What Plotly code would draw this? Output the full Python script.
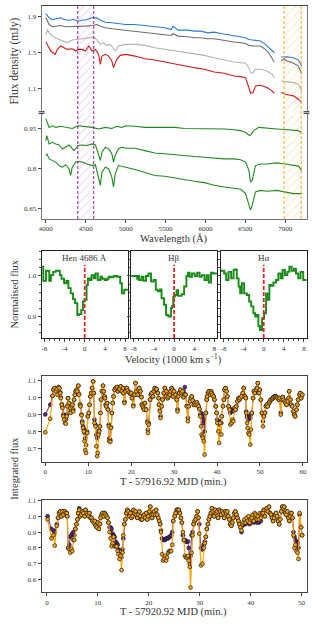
import plotly.graph_objects as go

# ---------------- DATA ----------------
# Top panel spectra (mJy)
wl_blue = [4000, 4021, 4041, 4083, 4124, 4186, 4228, 4290, 4352, 4405, 4455, 4517, 4579, 4641, 4683, 4745, 4827, 4910,
           5001, 5117, 5241, 5365, 5489, 5572, 5593, 5655, 5779, 5862, 5944, 6027, 6110, 6193, 6275, 6358, 6441, 6503,
           6544, 6606, 6689, 6751, 6792, 6834, 6863, 6900, 6950, 7020, 7103, 7165, 7206]
fx_blue = [1.929, 1.907, 1.882, 1.863, 1.870, 1.882, 1.863, 1.856, 1.863, 1.845, 1.856, 1.863, 1.882, 1.882, 1.856,
           1.834, 1.827, 1.819, 1.808, 1.808, 1.797, 1.783, 1.772, 1.753, 1.790, 1.746, 1.746, 1.735, 1.735, 1.716,
           1.724, 1.709, 1.698, 1.680, 1.672, 1.661, 1.643, 1.636, 1.625, 1.588, 1.551, 1.515, 1.496, None, 1.448,
           1.452, 1.441, 1.415, 1.349]
wl_dgray = [4000, 4021, 4041, 4083, 4124, 4186, 4248, 4331, 4405, 4496, 4579, 4641, 4683, 4745, 4827, 4910, 5001, 5117,
            5241, 5365, 5489, 5572, 5593, 5655, 5779, 5862, 5944, 6027, 6110, 6193, 6275, 6358, 6441, 6503, 6544, 6606,
            6689, 6751, 6792, 6834, 6863, 6900, 6950, 6979, 7020, 7103, 7165, 7206]
fx_dgray = [1.882, 1.845, 1.808, 1.783, 1.790, 1.797, 1.783, 1.783, 1.783, 1.790, 1.797, 1.808, 1.790, 1.772, 1.761,
            1.753, 1.746, 1.735, 1.724, 1.709, 1.698, 1.687, 1.709, 1.680, 1.672, 1.661, 1.661, 1.650, 1.650, 1.636,
            1.625, 1.614, 1.606, 1.599, 1.577, 1.570, 1.570, 1.533, 1.496, 1.441, 1.393, None, 1.404, 1.430, 1.404,
            1.379, 1.349, 1.258]
wl_lgray = [4000, 4021, 4041, 4083, 4145, 4207, 4269, 4331, 4405, 4476, 4538, 4600, 4641, 4683, 4724, 4753, 4807, 4848,
            4869, 4910, 4993, 5117, 5241, 5365, 5489, 5613, 5738, 5862, 5986, 6110, 6234, 6358, 6441, 6503, 6544, 6565,
            6586, 6627, 6689, 6772, 6834, 6863, 6900, 6950, 7020, 7103, 7165, 7206]
fx_lgray = [1.698, 1.753, 1.716, 1.680, 1.650, 1.625, 1.606, 1.636, 1.643, 1.650, 1.661, 1.669, 1.636, 1.588, 1.606,
            1.577, 1.588, 1.533, 1.515, 1.570, 1.588, 1.588, 1.577, 1.551, 1.533, 1.515, 1.504, 1.478, 1.467, 1.441,
            1.415, 1.393, 1.386, 1.379, 1.331, 1.276, 1.269, 1.313, 1.313, 1.294, 1.258, 1.221, None, 1.184, 1.173,
            1.166, 1.147, 1.074]
wl_red = [4000, 4021, 4041, 4062, 4083, 4116, 4145, 4186, 4228, 4269, 4331, 4372, 4405, 4455, 4496, 4538, 4579, 4621,
          4662, 4683, 4703, 4745, 4786, 4827, 4848, 4889, 4931, 5001, 5117, 5241, 5365, 5489, 5613, 5738, 5862, 5986,
          6110, 6234, 6358, 6441, 6503, 6544, 6565, 6598, 6627, 6689, 6772, 6834, 6863, 6900, 6950, 7000, 7061, 7103,
          7165, 7206]
fx_red = [1.614, 1.588, 1.551, 1.515, 1.496, 1.478, 1.533, 1.570, 1.551, 1.533, 1.540, 1.515, 1.533, 1.533, 1.515,
          1.570, 1.515, 1.533, 1.478, 1.368, 1.459, 1.478, 1.459, 1.404, 1.331, 1.423, 1.467, 1.478, 1.459, 1.430,
          1.415, 1.393, 1.368, 1.349, 1.331, 1.313, 1.283, 1.269, 1.239, 1.232, 1.221, 1.111, 1.048, 1.056, 1.129,
          1.136, 1.111, 1.074, 1.048, None, 1.056, 1.037, 1.026, 1.019, 0.982, 0.945]

# Lower spectra panel (green)
wl_g1 = [4000, 4021, 4041, 4083, 4124, 4186, 4248, 4331, 4405, 4496, 4579, 4662, 4745, 4827, 4889, 4952, 5001, 5117,
         5241, 5365, 5489, 5613, 5738, 5862, 5986, 6110, 6234, 6358, 6441, 6503, 6544, 6565, 6606, 6668, 6772, 6896,
         7020, 7103, 7165, 7206]
fx_g1 = [0.988, 0.974, 0.955, 0.961, 0.955, 0.959, 0.955, 0.951, 0.961, 0.959, 0.955, 0.949, 0.955, 0.951, 0.959,
         0.955, 0.961, 0.959, 0.955, 0.955, 0.955, 0.955, 0.951, 0.951, 0.951, 0.949, 0.949, 0.946, 0.943, 0.936,
         0.926, 0.926, 0.943, 0.955, 0.951, 0.949, 0.946, 0.943, 0.943, 0.934]
wl_g23 = [4000, 4012, 4041, 4083, 4124, 4165, 4207, 4248, 4290, 4310, 4331, 4352, 4372, 4405, 4455, 4517, 4579, 4621,
          4662, 4683, 4703, 4745, 4786, 4827, 4848, 4869, 4910, 4952, 5001, 5117, 5241, 5365, 5489, 5613, 5738, 5862,
          5986, 6110, 6234, 6358, 6441, 6503, 6544, 6565, 6586, 6627, 6689, 6772, 6896, 7000, 7103, 7165, 7206]
fx_g2 = [0.905, 0.924, 0.893, 0.899, 0.893, 0.889, 0.874, 0.881, 0.889, 0.883, 0.877, 0.868, 0.874, 0.887, 0.889,
         0.887, 0.893, 0.889, 0.852, 0.831, 0.862, 0.881, 0.874, 0.856, 0.825, 0.850, 0.874, 0.881, 0.877, 0.877,
         0.868, 0.859, 0.856, 0.852, 0.850, 0.846, 0.843, 0.839, 0.837, 0.837, 0.834, 0.825, 0.794, 0.750, 0.756,
         0.812, 0.818, 0.818, 0.822, 0.818, 0.812, 0.810, 0.794]
fx_g3 = [0.850, 0.856, 0.837, 0.831, 0.825, 0.812, 0.806, 0.815, 0.800, 0.775, 0.806, 0.815, 0.825, 0.827, 0.825,
         0.818, 0.812, 0.815, 0.763, 0.738, 0.787, 0.806, 0.800, 0.769, 0.732, 0.781, 0.812, 0.810, 0.806, 0.797,
         0.787, 0.775, 0.772, 0.765, 0.760, 0.753, 0.748, 0.738, 0.732, 0.728, 0.723, 0.707, 0.670, 0.645, 0.663,
         0.713, 0.719, 0.716, 0.719, 0.713, 0.707, 0.707, 0.707]

band_purple = [4400, 4600]
band_orange = [6985, 7200]

wl_ticks = [4000, 4500, 5000, 5500, 6000, 6500, 7000]
top_ticks = [1.1, 1.5, 1.9]
top_ticktext = ["1.1", "1.5", "1.9"]
bot_ticks = [0.65, 0.8, 0.95]
bot_ticktext = ["0.65", "0.8", "0.95"]

# Line profiles (velocity in 1000 km/s, normalised flux)
vel_heii = [-8.65, -8.2, -7.67, -7.02, -6.69, -6.24, -5.71, -4.93, -4.6, -4.08, -3.62, -3.23, -2.77, -2.31, -1.92,
            -1.46, -1.14, -0.68, -0.35, -0.03, 0.37, 0.63, 1.02, 1.35, 1.8, 2.13, 2.59, 3.11, 3.44, 3.96, 4.42, 4.75,
            5.2, 5.73, 6.38, 7.03, 7.36, 7.82, 8.6]
nf_heii = [1.023, 0.988, 1.013, 0.988, 1.002, 1.010, 1.013, 1.002, 0.993, 0.982, 0.988, 0.970, 0.957, 0.943, 0.933,
           0.904, 0.906, 0.916, 0.937, 0.941, 0.978, 0.994, 0.990, 1.002, 0.994, 1.006, 0.990, 0.998, 0.993, 0.990,
           0.993, 0.998, 0.997, 1.000, 0.998, 0.982, 0.957, 0.966, 0.966]
vel_hb = [-8.6, -7.35, -7.15, -7.0, -6.5, -6.1, -5.6, -5.1, -4.6, -4.1, -3.65, -3.25, -2.8, -2.5, -2.0, -1.6, -1.15,
          -0.6, -0.4, -0.16, 0.16, 0.49, 0.8, 1.47, 1.99, 2.45, 2.78, 3.1, 3.56, 4.1, 4.6, 5.06, 5.5, 6.05, 6.5, 6.9,
          7.35, 7.8, 8.6]
nf_hb = [1.0, 0.993, 1.0, 0.990, 0.998, 0.988, 1.0, 1.006, 0.986, 0.990, 0.966, 0.962, 0.967, 0.945, 0.929, 0.904,
         0.900, 0.921, 0.926, 0.949, 0.953, 0.965, 0.951, 0.955, 0.974, 1.0, 1.008, 0.998, 1.006, 1.0, 1.008, 0.998,
         1.002, 0.990, 1.002, 0.984, 1.008, 1.006, 1.006]
vel_ha = [-8.6, -7.87, -7.47, -7.0, -6.48, -6.0, -5.7, -5.36, -5.0, -4.7, -4.36, -3.9, -3.37, -2.9, -2.5, -2.05, -1.7,
          -1.39, -1.06, -0.73, -0.33, 0.07, 0.47, 0.73, 1.13, 1.46, 1.92, 2.45, 2.91, 3.38, 3.77, 4.23, 4.7, 5.1, 5.56,
          6.02, 6.42, 6.88, 7.34, 7.87, 8.6]
nf_ha = [1.013, 1.006, 0.990, 1.010, 0.994, 1.015, 1.016, 0.994, 0.974, 0.957, 0.982, 0.957, 0.953, 0.937, 0.925,
         0.908, 0.900, 0.904, 0.876, 0.867, 0.896, 0.908, 0.957, 0.941, 0.978, 0.976, 0.984, 0.990, 1.006, 0.994,
         1.015, 1.002, 1.010, 1.023, 1.013, 1.018, 1.006, 0.994, 1.010, 0.990, 0.990]
line_labels = ["He<span style='font-size:7px'>II</span> 4686 Å", "Hβ", "Hα"]
vel_ticks = [-8, -4, 0, 4, 8]
vel_ticktext = ["-8", "-4", "0", "4", "8"]
nf_ticks = [0.9, 1.0]
nf_ticktext = ["0.9", "1.0"]

# Light curve 1 (T - 57916.92 MJD, min)
t1 = [0, 1.15, 1.7, 1.9, 2.2, 2.5, 2.7, 2.85, 3.1, 3.3, 3.5, 3.6, 3.85, 4.0, 4.2, 4.4, 4.6, 4.8, 5.0, 5.15, 5.3, 5.5,
      5.8, 5.9, 6.15, 6.3, 6.5, 6.7, 6.9, 7.1, 7.3, 7.45, 7.7, 7.85, 8.1, 8.2, 8.45, 8.6, 8.8, 9.0, 9.15, 9.3, 9.5,
      9.75, 9.9, 10.15, 10.3, 10.5, 10.7, 10.9, 11.15, 11.3, 11.45, 11.7, 11.9, 12.1, 12.2, 12.4, 12.55, 12.7, 12.85,
      13.0, 13.2, 13.45, 13.6, 13.8, 13.9, 14.1, 14.2, 14.4, 14.6, 14.8, 14.9, 15.15, 15.3, 15.5, 15.7, 15.9, 16.15,
      16.4, 16.7, 16.9, 17.1, 17.3, 17.6, 17.85, 18.1, 18.2, 18.45, 18.7, 19.0, 19.2, 19.5, 19.8, 20.0, 20.2, 20.5,
      20.8, 21.0, 21.2, 21.5, 21.7, 21.9, 22.15, 22.4, 22.5, 22.7, 22.85, 23.0, 23.2, 23.5, 23.8, 23.9, 24.1, 24.4,
      24.6, 24.8, 25.1, 25.3, 25.5, 25.8, 25.9, 26.2, 26.4, 26.5, 26.7, 26.85, 27.1, 27.3, 27.6, 27.85, 28.1, 28.2,
      28.5, 28.7, 29.0, 29.2, 29.4, 29.65, 29.8, 30.0, 30.35, 30.6, 30.8, 30.96, 31.2, 31.5, 31.7, 31.95, 32.2, 32.5,
      32.7, 32.95, 33.2, 33.4, 33.7, 33.9, 34.1, 34.3, 34.6, 34.8, 35.0, 35.3, 35.5, 35.7, 35.9, 36.1, 36.3, 36.4,
      36.6, 36.7, 36.9, 37.1, 37.4, 37.6, 37.7, 37.9, 38.1, 38.4, 38.6, 38.7, 38.95, 39.2, 39.4, 39.7, 39.9, 40.05,
      40.3, 40.5, 40.7, 41.0, 41.1, 41.4, 41.6, 41.75, 42.0, 42.2, 42.4, 42.7, 42.9, 43.1, 43.4, 43.6, 43.8, 44.1,
      44.3, 44.5, 44.75, 45.0, 45.2, 45.4, 45.7, 46.0, 46.2, 46.5, 46.7, 46.8, 47.0, 47.1, 47.3, 47.5, 47.75, 47.9,
      48.1, 48.4, 48.6, 48.8, 49.1, 49.3, 49.5, 49.75, 49.95, 50.2, 50.45, 50.7, 50.9, 51.15, 51.4, 51.6, 51.8, 52.1,
      52.3, 52.5, 52.8, 53.0, 53.2, 53.5, 53.7, 53.9, 54.1, 54.4, 54.6, 54.85, 55.1, 55.3, 55.5, 55.8, 56.0, 56.2,
      56.5, 56.7, 56.8, 57.1, 57.3, 57.5, 57.8, 58.0, 58.2, 58.5, 58.7, 58.9, 59.2, 59.4, 59.6, 59.85]
orange1 = [0.795, 0.875, 1.010, 1.045, 1.055, 1.036, 1.049, 1.016, 1.061, 1.055, 1.026, 0.996, 0.957, 0.938, 0.889,
           0.870, 0.850, 0.846, 0.889, 0.948, 0.996, 0.967, 0.938, 0.909, 0.948, 0.957, 0.918, 0.987, 1.016, 1.036,
           1.045, 1.036, 1.069, 1.016, 0.957, 0.948, 0.895, 0.850, 0.821, 0.801, 0.743, 0.690, 0.674, 0.791, 0.889,
           0.909, 0.957, 1.006, 1.026, 1.055, 1.094, 1.026, 0.850, 0.830, 0.713, 0.655, 0.674, 0.782, 0.801, 0.830,
           0.909, 0.987, 1.036, 1.069, 1.036, 1.006, 0.996, 0.957, 0.948, 0.967, 0.928, 0.830, 0.743, 0.739, 0.821,
           0.909, 0.967, 1.006, 1.045, 1.055, 1.061, 1.036, 1.049, 1.049, 1.065, 1.036, 1.055, 1.026, 0.967, 1.036,
           1.055, 1.041, 1.030, 1.022, 1.026, 0.996, 0.948, 1.016, 1.084, 1.036, 1.016, 1.045, 1.055, 1.036, 1.002,
           0.957, 0.948, 0.938, 0.928, 0.967, 0.928, 0.850, 0.791, 0.840, 0.987, 1.016, 1.026, 1.006, 1.036, 1.055,
           1.045, 1.049, 1.026, 0.996, 0.957, 0.918, 0.879, 0.948, 0.987, 1.026, 1.055, 1.006, 1.036, 0.996, 1.006,
           1.016, 1.036, 1.055, 1.045, 1.006, 1.036, 1.016, 0.987, 0.918, 1.006, 1.026, 1.045, 1.026, 1.036, 1.002,
           1.016, 1.016, 0.948, 0.860, 0.948, 0.977, 0.996, 1.006, 0.983, 0.957, 0.967, 0.957, 0.971, 0.957, 0.948,
           0.932, 0.889, 0.830, 0.782, 0.772, 0.762, 0.743, 0.664, 0.909, 0.987, 1.006, 1.026, 1.036, 1.016, 1.036,
           1.026, 1.016, 1.006, 0.987, 0.948, 0.909, 0.850, 0.801, 0.733, 0.850, 0.782, 0.889, 0.948, 0.987, 1.045,
           1.055, 1.036, 1.006, 0.948, 0.928, 0.840, 0.850, 0.870, 0.860, 0.938, 0.928, 0.948, 0.977, 0.996, 0.987,
           0.996, 1.006, 1.026, 1.055, 1.006, 0.996, 0.909, 0.850, 0.821, 0.791, 0.782, 0.723, 0.811, 0.909, 0.996,
           1.036, 1.026, 1.045, 1.055, 1.084, 1.026, 1.045, 0.987, 0.909, 0.830, 0.889, 0.909, 0.948, 0.957, 0.948,
           0.967, 0.977, 0.987, 0.991, 0.996, 1.002, 1.006, 1.006, 1.002, 0.996, 0.987, 0.996, 0.899, 0.987, 1.002,
           0.987, 0.977, 0.967, 0.957, 0.977, 0.996, 1.036, 0.987, 0.957, 0.948, 0.918, 0.899, 0.889, 0.928, 0.957,
           0.987, 1.016, 1.026, 0.996, 1.016]
purple1 = [0.900, 0.957, 1.010, 1.045, 1.055, 1.040, 1.049, 1.030, 1.061, 1.055, 1.030, 1.000, 0.960, 0.945, 0.900,
           0.890, 0.880, 0.870, 0.900, 0.950, 0.996, 0.967, 0.945, 0.920, 0.950, 0.957, 0.930, 0.987, 1.016, 1.036,
           1.045, 1.040, 1.069, 1.020, 0.960, 0.950, 0.900, 0.860, 0.830, 0.815, 0.790, 0.760, 0.720, 0.800, 0.889,
           0.909, 0.957, 1.006, 1.026, 1.055, 1.094, 1.026, 0.870, 0.840, 0.780, 0.760, 0.770, 0.790, 0.805, 0.830,
           0.909, 0.987, 1.036, 1.069, 1.036, 1.006, 0.996, 0.957, 0.948, 0.967, 0.930, 0.840, 0.760, 0.750, 0.825,
           0.909, 0.967, 1.006, 1.045, 1.055, 1.061, 1.036, 1.049, 1.049, 1.065, 1.036, 1.055, 1.026, 0.975, 1.036,
           1.055, 1.041, 1.030, 1.022, 1.026, 0.996, 0.955, 1.016, 1.084, 1.036, 1.016, 1.045, 1.055, 1.036, 1.002,
           0.960, 0.950, 0.940, 0.930, 0.967, 0.930, 0.860, 0.810, 0.850, 0.987, 1.016, 1.026, 1.006, 1.036, 1.055,
           1.045, 1.049, 1.026, 0.996, 0.957, 0.925, 0.890, 0.948, 0.987, 1.026, 1.055, 1.006, 1.036, 0.996, 1.006,
           1.016, 1.036, 1.055, 1.045, 1.006, 1.036, 1.016, 0.987, 0.930, 1.006, 1.026, 1.045, 1.026, 1.036, 1.002,
           1.061, 1.016, 0.950, 0.880, 0.948, 0.977, 0.996, 1.006, 0.983, 0.957, 0.967, 0.957, 0.971, 0.957, 0.948,
           0.932, 0.900, 0.909, 0.899, 0.889, 0.850, 0.870, 0.800, 0.909, 0.987, 1.006, 1.026, 1.036, 1.016, 1.036,
           1.026, 1.016, 1.006, 0.987, 0.948, 0.909, 0.870, 0.850, 0.840, 0.860, 0.850, 0.889, 0.948, 0.987, 1.045,
           1.055, 1.036, 1.006, 0.948, 0.938, 0.909, 0.920, 0.928, 0.918, 0.938, 0.928, 0.948, 0.977, 0.996, 0.987,
           0.996, 1.006, 1.026, 1.055, 1.006, 0.996, 0.918, 0.889, 0.879, 0.870, 0.889, 0.880, 0.899, 0.909, 0.996,
           1.036, 1.026, 1.045, 1.055, 1.084, 1.026, 1.045, 0.987, 0.909, 0.860, 0.889, 0.909, 0.948, 0.957, 0.948,
           0.967, 0.977, 0.987, 0.991, 0.996, 1.002, 1.006, 1.006, 1.002, 0.996, 0.987, 0.996, 0.910, 0.987, 1.002,
           0.987, 0.977, 0.967, 0.957, 0.977, 0.996, 1.036, 0.987, 0.957, 0.948, 0.918, 0.899, 0.889, 0.928, 0.957,
           0.987, 1.016, 1.026, 0.996, 1.016]
lc1_xticks = [0, 10, 20, 30, 40, 50, 60]
lc1_yticks = [0.7, 0.8, 0.9, 1.0, 1.1]
lc1_yticktext = ["0.7", "0.8", "0.9", "1.0", "1.1"]

# Light curve 2 (T - 57920.92 MJD, min)
t2 = [0.14, 0.9, 1.3, 1.55, 1.95, 2.2, 2.4, 2.6, 2.85, 3.05, 3.25, 3.5, 3.7, 3.9, 4.0, 4.2, 4.4, 4.6, 4.8, 5.0, 5.2,
      5.4, 5.6, 5.8, 6.0, 6.15, 6.35, 6.55, 6.75, 6.95, 7.15, 7.4, 7.6, 7.8, 8.0, 8.2, 8.35, 8.55, 8.75, 8.95, 9.2,
      9.4, 9.6, 9.8, 10.0, 10.2, 10.4, 10.55, 10.75, 10.95, 11.15, 11.35, 11.5, 11.7, 11.9, 12.1, 12.3, 12.5, 12.7,
      12.9, 13.1, 13.3, 13.5, 13.7, 13.9, 14.05, 14.25, 14.45, 14.65, 14.85, 15.0, 15.2, 15.4, 15.6, 15.8, 16.0, 16.2,
      16.4, 16.6, 16.8, 17.0, 17.2, 17.4, 17.55, 17.75, 17.95, 18.15, 18.35, 18.5, 18.7, 18.9, 19.1, 19.3, 19.5, 19.7,
      19.9, 20.1, 20.3, 20.5, 20.65, 20.85, 21.05, 21.25, 21.45, 21.65, 21.85, 22.05, 22.25, 22.4, 22.6, 22.8, 23.0,
      23.2, 23.4, 23.6, 23.8, 24.0, 24.2, 24.4, 24.6, 24.8, 25.1, 25.3, 25.5, 25.7, 25.9, 26.1, 26.3, 26.5, 26.7,
      26.9, 27.1, 27.3, 27.5, 27.7, 27.85, 28.05, 28.2, 28.4, 28.6, 28.8, 29.0, 29.2, 29.4, 29.6, 29.75, 29.9, 30.25,
      30.55, 30.8, 31.0, 31.2, 31.4, 31.6, 31.8, 32.0, 32.2, 32.4, 32.6, 32.8, 33.0, 33.2, 33.4, 33.6, 33.8, 34.0,
      34.2, 34.4, 34.6, 34.8, 35.0, 35.2, 35.4, 35.6, 35.8, 36.0, 36.2, 36.4, 36.6, 36.8, 37.0, 37.2, 37.4, 37.6,
      37.8, 38.0, 38.2, 38.4, 38.6, 38.8, 39.0, 39.2, 39.4, 39.6, 39.8, 40.0, 40.2, 40.4, 40.6, 40.8, 41.0, 41.2,
      41.4, 41.6, 41.8, 42.0, 42.2, 42.4, 42.6, 42.8, 43.0, 43.2, 43.4, 43.6, 43.8, 44.0, 44.2, 44.4, 44.6, 44.8,
      45.0, 45.2, 45.4, 45.6, 45.8, 46.0, 46.2, 46.4, 46.6, 46.8, 47.0, 47.2, 47.4, 47.6, 47.8, 48.0, 48.2, 48.4,
      48.6, 48.8, 49.0, 49.2, 49.4, 49.6, 49.9, 50.1]
orange2 = [0.98, 0.86, 0.88, 0.815, 0.94, 0.99, 1.02, 1.03, 1.00, 1.03, 1.01, 1.03, 1.02, 1.02, 1.00, 0.80, 0.79,
           0.77, 0.795, 0.78, 0.85, 0.85, 0.92, 0.95, 0.98, 1.02, 1.04, 1.00, 1.01, 1.03, 1.02, 1.00, 1.04, 1.02,
           1.01, 1.00, 1.02, 0.99, 0.99, 0.97, 0.96, 0.97, 0.94, 0.93, 0.96, 0.92, 0.95, 0.99, 1.01, 1.02, 1.00,
           1.02, 1.01, 1.00, 0.99, 0.96, 0.90, 0.86, 0.81, 0.83, 0.87, 0.81, 0.81, 0.81, 0.78, 0.76, 0.73, 0.75,
           0.66, 0.77, 0.88, 0.95, 0.98, 1.02, 1.04, 1.03, 1.00, 1.02, 0.99, 1.00, 1.04, 1.02, 1.03, 1.01, 0.99,
           1.01, 1.03, 1.00, 0.98, 0.98, 1.00, 1.01, 0.99, 1.02, 0.98, 1.00, 1.03, 1.06, 1.01, 0.99, 1.01, 1.03,
           1.01, 1.04, 1.01, 0.99, 0.97, 0.95, 0.90, 0.76, 0.72, 0.73, 0.75, 0.72, 0.74, 0.77, 0.78, 0.78, 0.78,
           0.82, 0.97, 1.00, 1.02, 1.04, 1.04, 1.04, 1.02, 0.99, 0.96, 0.90, 0.85, 0.75, 0.74, 0.74, 0.75, 0.72,
           0.68, 0.55, 0.77, 0.88, 0.95, 0.97, 0.98, 1.00, 1.03, 0.99, 0.89, 0.69, 0.70, 0.80, 0.83, 0.87, 0.92,
           0.95, 0.98, 1.00, 1.02, 1.05, 1.03, 1.00, 1.04, 1.02, 1.03, 0.99, 1.04, 1.03, 1.01, 1.03, 1.02, 0.99,
           1.03, 1.02, 1.03, 1.00, 0.98, 0.95, 0.94, 0.96, 0.99, 1.02, 1.03, 1.01, 0.99, 0.97, 0.95, 0.93, 0.91,
           0.95, 0.96, 0.98, 0.96, 0.99, 0.97, 1.00, 0.96, 0.98, 0.99, 1.01, 0.97, 1.02, 1.01, 0.98, 1.00, 0.98,
           1.02, 0.99, 1.02, 1.02, 1.04, 1.00, 1.04, 1.05, 1.03, 1.06, 1.02, 1.01, 0.99, 0.97, 0.99, 1.01, 1.02,
           1.00, 0.97, 0.95, 0.98, 1.03, 1.06, 1.05, 1.06, 1.02, 1.01, 1.03, 0.99, 0.97, 1.00, 1.02, 0.99, 0.88,
           0.80, 0.82, 0.78, 0.77, 0.73, 1.02, 0.93, 0.88]
purple2 = [1.00, 0.92, 0.91, 0.90, 0.95, 0.99, 1.02, 1.03, 1.00, 1.03, 1.01, 1.03, 1.02, 1.02, 1.00, 0.80, 0.82,
           0.87, 0.88, 0.89, 0.90, 0.88, 0.92, 0.95, 0.98, 1.02, 1.05, 1.00, 1.01, 1.03, 1.02, 1.00, 1.04, 1.02,
           1.01, 1.00, 1.02, 0.99, 0.99, 0.97, 0.96, 0.97, 0.94, 0.93, 0.96, 0.92, 0.95, 0.99, 1.01, 1.02, 1.00,
           1.02, 1.01, 1.00, 0.99, 0.96, 0.93, 0.93, 0.92, 0.89, 0.88, 0.87, 0.84, 0.83, 0.82, 0.79, 0.76, 0.76,
           0.74, 0.79, 0.86, 0.95, 0.98, 1.02, 1.04, 1.03, 1.00, 1.02, 0.99, 1.00, 1.04, 1.02, 1.03, 1.01, 0.99,
           1.01, 1.03, 1.00, 0.98, 0.98, 1.00, 1.01, 0.99, 1.02, 0.98, 1.00, 1.03, 1.06, 1.01, 0.99, 1.01, 1.03,
           1.01, 1.04, 1.01, 0.99, 0.97, 0.95, 0.91, 0.86, 0.85, 0.85, 0.85, 0.86, 0.86, 0.86, 0.87, 0.87, 0.88,
           0.90, 0.97, 1.00, 1.02, 1.04, 1.04, 1.04, 1.02, 0.99, 0.96, 0.88, 0.85, 0.85, 0.84, 0.84, 0.84, 0.80,
           0.70, 0.75, 0.88, 0.90, 0.95, 0.97, 0.98, 1.00, 1.03, 0.99, 0.95, 0.80, 0.79, 0.82, 0.84, 0.87, 0.92,
           0.95, 0.98, 1.00, 1.02, 1.05, 1.03, 1.00, 1.04, 1.02, 1.03, 0.99, 1.04, 1.03, 1.01, 1.03, 1.02, 0.99,
           1.03, 1.02, 1.03, 1.00, 0.98, 0.95, 0.94, 0.96, 0.99, 1.02, 1.03, 1.01, 0.99, 0.97, 0.95, 0.93, 0.90,
           0.94, 0.95, 0.97, 0.95, 0.98, 0.96, 0.99, 0.95, 0.97, 0.97, 1.00, 0.96, 1.01, 1.00, 0.96, 0.99, 0.96,
           1.01, 0.97, 1.02, 1.02, 1.04, 1.00, 1.04, 1.05, 1.03, 1.06, 1.02, 1.01, 0.99, 0.97, 0.99, 1.01, 1.02,
           1.00, 0.97, 0.95, 0.98, 1.03, 1.06, 1.05, 1.06, 1.02, 1.01, 1.03, 0.99, 0.97, 1.00, 1.02, 0.99, 0.90,
           0.87, 0.85, 0.84, 0.83, 0.80, 1.01, 0.93, 0.88]
lc2_xticks = [0, 10, 20, 30, 40, 50]
lc2_yticks = [0.6, 0.7, 0.8, 0.9, 1.0, 1.1]
lc2_yticktext = ["0.6", "0.7", "0.8", "0.9", "1.0", "1.1"]

# ---------------- LAYOUT HELPERS ----------------
W, H = 312, 624
FONT = "Liberation Serif"
AX = "#444444"
TXT = "#333333"


def xd(x0, x1):
    return [x0 / W, x1 / W]


def yd(y0, y1):
    return [1 - y1 / H, 1 - y0 / H]


def axis(dom, rng, **kw):
    d = dict(domain=dom, range=rng, showgrid=False, zeroline=False, showline=True,
             linecolor=AX, linewidth=1, ticks="outside", ticklen=3, tickwidth=1, tickcolor=AX,
             tickfont=dict(family=FONT, size=7, color=TXT), mirror=True)
    d.update(kw)
    return d


xr_spec = [3947, 7267]
yr_top = [0.841, 2.013]
yr_bot = [0.612, 1.009]
xr_vel = [-8.53, 8.53]
yr_vel = [0.847, 1.062]
xr_lc1 = [-0.85, 60.85]
yr_lc1 = [0.622, 1.129]
xr_lc2 = [-1.03, 50.97]
yr_lc2 = [0.519, 1.105]

fig = go.Figure()

# hatched bands (both spectra panels)
for band, fg in [(band_purple, "rgba(200,150,215,0.8)"), (band_orange, "rgba(255,195,105,0.85)")]:
    for xa, ya, yr in [("x", "y", yr_top), ("x2", "y2", yr_bot)]:
        fig.add_trace(go.Scatter(
            x=[band[0], band[0], band[1], band[1], band[0]],
            y=[yr[0], yr[1], yr[1], yr[0], yr[0]],
            xaxis=xa, yaxis=ya, mode="lines", line=dict(width=0), fill="toself",
            fillcolor="rgba(0,0,0,0)",
            fillpattern=dict(shape="/", fgcolor=fg, bgcolor="rgba(0,0,0,0)", size=6, solidity=0.18),
            hoverinfo="skip", showlegend=False))

# top spectra
for wl, fx, col in [(wl_blue, fx_blue, "#2b7bd6"), (wl_dgray, fx_dgray, "#6b6b6b"),
                    (wl_lgray, fx_lgray, "#b3b3b3"), (wl_red, fx_red, "#d41616")]:
    fig.add_trace(go.Scatter(x=wl, y=fx, mode="lines", line=dict(color=col, width=1.1),
                             xaxis="x", yaxis="y", connectgaps=False, showlegend=False))

# green spectra
for wl, fx in [(wl_g1, fx_g1), (wl_g23, fx_g2), (wl_g23, fx_g3)]:
    fig.add_trace(go.Scatter(x=wl, y=fx, mode="lines", line=dict(color="#1f8a1f", width=1.1),
                             xaxis="x2", yaxis="y2", showlegend=False))

# line profiles
for i, (v, f) in enumerate([(vel_heii, nf_heii), (vel_hb, nf_hb), (vel_ha, nf_ha)]):
    n = str(i + 3)
    fig.add_trace(go.Scatter(x=v, y=f, mode="lines", line=dict(color="#178a17", width=1.9, shape="hv"),
                             xaxis="x" + n, yaxis="y" + n, showlegend=False))

# light curves
for t, pu, orr, n in [(t1, purple1, orange1, "6"), (t2, purple2, orange2, "7")]:
    fig.add_trace(go.Scatter(x=t, y=pu, mode="lines+markers", xaxis="x" + n, yaxis="y" + n,
                             line=dict(color="#7b3f9e", width=1.1),
                             marker=dict(size=3.8, color="#5c2a85", line=dict(color="#1a1a1a", width=0.7)),
                             showlegend=False))
    fig.add_trace(go.Scatter(x=t, y=orr, mode="lines+markers", xaxis="x" + n, yaxis="y" + n,
                             line=dict(color="#ffa500", width=1.2),
                             marker=dict(size=3.8, color="#ffa500", line=dict(color="#1a1a1a", width=0.7)),
                             showlegend=False))

# boxes (pixels)
SPX = (39, 306.5)
TOP = (3, 109.5)
BOT = (110.5, 217)
MIDY = (249, 336.7)
MIDX = [(39, 126), (129.5, 216), (220, 306.5)]
LC1Y = (374.3, 461)
LC2Y = (499, 592.3)

minor_v = dict(ticks="outside", ticklen=1.5, dtick=1, tickcolor=AX)
minor_n = dict(ticks="outside", ticklen=1.5, dtick=0.02, tickcolor=AX)

layout_axes = dict(
    xaxis=axis(xd(*SPX), xr_spec, anchor="y", side="top", mirror=False, showticklabels=False, ticks=""),
    yaxis=axis(yd(*TOP), yr_top, anchor="x", tickvals=top_ticks, ticktext=top_ticktext, linecolor="#777"),
    xaxis2=axis(xd(*SPX), xr_spec, anchor="y2", mirror=False, tickvals=wl_ticks, linecolor="#777"),
    yaxis2=axis(yd(*BOT), yr_bot, anchor="x2", tickvals=bot_ticks, ticktext=bot_ticktext, linecolor="#777"),
    xaxis6=axis(xd(*SPX), xr_lc1, anchor="y6", tickvals=lc1_xticks),
    yaxis6=axis(yd(*LC1Y), yr_lc1, anchor="x6", tickvals=lc1_yticks, ticktext=lc1_yticktext),
    xaxis7=axis(xd(*SPX), xr_lc2, anchor="y7", tickvals=lc2_xticks),
    yaxis7=axis(yd(*LC2Y), yr_lc2, anchor="x7", tickvals=lc2_yticks, ticktext=lc2_yticktext),
)
for i, (x0, x1) in enumerate(MIDX):
    n = str(i + 3)
    layout_axes["xaxis" + n] = axis(xd(x0, x1), xr_vel, anchor="y" + n, tickvals=vel_ticks,
                                    ticktext=vel_ticktext, minor=minor_v, linewidth=1.2, linecolor="#222")
    layout_axes["yaxis" + n] = axis(yd(*MIDY), yr_vel, anchor="x" + n, tickvals=nf_ticks,
                                    ticktext=nf_ticktext, minor=minor_n, showticklabels=(i == 0),
                                    linewidth=1.2, linecolor="#222")

fig.update_layout(width=W, height=H, margin=dict(l=0, r=0, t=0, b=0),
                  paper_bgcolor="white", plot_bgcolor="white", showlegend=False,
                  font=dict(family=FONT, color=TXT), **layout_axes)

shapes = []
# band edges spanning both spectra panels
for band, col in [(band_purple, "#8b1f8b"), (band_orange, "#ffa31a")]:
    for xv in band:
        shapes.append(dict(type="line", xref="x2", yref="paper", x0=xv, x1=xv,
                           y0=1 - BOT[1] / H, y1=1 - TOP[0] / H,
                           line=dict(color=col, width=1, dash="3px,2px")))
# broken-axis marks
for yy in (109.2, 111.0):
    for xa, xb in ((36, 42), (303.5, 309.5)):
        shapes.append(dict(type="line", xref="paper", yref="paper", x0=xa / W, x1=xb / W,
                           y0=1 - yy / H, y1=1 - yy / H, line=dict(color="#555", width=1.3)))
# zero-velocity markers
for i in range(3):
    n = str(i + 3)
    shapes.append(dict(type="line", xref="x" + n, yref="y" + n + " domain", x0=0, x1=0, y0=0, y1=0.84,
                       line=dict(color="#ee2222", width=1.8, dash="4px,2px")))
fig.update_layout(shapes=shapes)

ann = []


def text(s, x, y, size=10, angle=0):
    ann.append(dict(text=s, x=x / W, y=1 - y / H, xref="paper", yref="paper", showarrow=False,
                    xanchor="center", yanchor="middle", textangle=angle,
                    font=dict(family=FONT, size=size, color=TXT)))


text("Flux density (mJy)", 12, 58, 11.5, -90)
text("Wavelength (Å)", 172.5, 237, 10.5)
text("Normalised flux", 12, 292, 10.5, -90)
text("Velocity (1000 km s<sup>−1</sup>)", 172.5, 357.5, 10.5)
for lbl, (x0, x1) in zip(line_labels, MIDX):
    text(lbl, (x0 + x1) / 2, 256, 9)
text("Integrated flux", 12, 467, 10.5, -90)
text("T - 57916.92 MJD (min.)", 172.5, 481.5, 10.5)
text("T - 57920.92 MJD (min.)", 172.5, 612, 10.5)
fig.update_layout(annotations=ann)

fig.write_html("out.html", config={"displayModeBar": False},
               post_script="document.body.style.margin='0';document.body.style.padding='0';")
